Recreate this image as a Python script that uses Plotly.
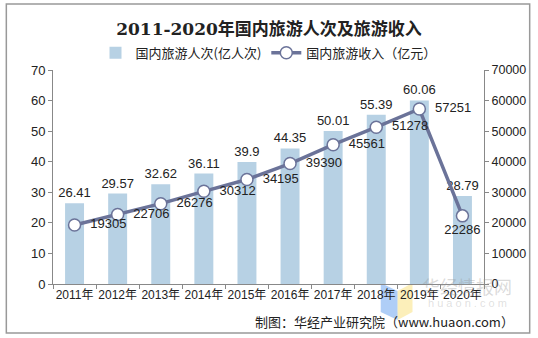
import plotly.graph_objects as go

years = ["2011年", "2012年", "2013年", "2014年", "2015年", "2016年", "2017年", "2018年", "2019年", "2020年"]
visitors = [26.41, 29.57, 32.62, 36.11, 39.9, 44.35, 50.01, 55.39, 60.06, 28.79]
revenue = [19305, 22706, 26276, 30312, 34195, 39390, 45561, 51278, 57251, 22286]
rev_pos = ["middle right"] * 9 + ["bottom center"]

FONT = "Liberation Sans, Arial, Noto Sans CJK SC, sans-serif"

# plot area in pixels: x 53..487, y 70..284
def px(x):
    return (x - 53) / 434
def py(y):
    return (284 - y) / 214

fig = go.Figure()
fig.add_trace(go.Bar(
    x=years, y=visitors, name="国内旅游人次(亿人次)",
    marker=dict(color="#b7d1e4", line=dict(width=0)),
    text=[f"{v:g}" for v in visitors], textposition="outside", constraintext="none",
    textfont=dict(size=13, color="#222", family=FONT), cliponaxis=False,
))
fig.add_trace(go.Scatter(
    x=years, y=revenue, name="国内旅游收入（亿元）", yaxis="y2",
    mode="lines+markers+text",
    line=dict(color="#6b7399", width=3.5),
    marker=dict(size=12, color="white", line=dict(color="#6b7399", width=1.5)),
    text=["  " + str(v) for v in revenue[:-1]] + [str(revenue[-1])], textposition=rev_pos,
    textfont=dict(size=13, color="#222", family=FONT), cliponaxis=False,
))

blue_logo = f"M {px(383)} {py(283)} L {px(400)} {py(291)} L {px(400)} {py(320)} L {px(383)} {py(312)} Z"
yellow_logo = f"M {px(400)} {py(291)} L {px(415)} {py(283)} L {px(415)} {py(312)} L {px(400)} {py(320)} Z"

fig.update_layout(
    width=538, height=338,
    margin=dict(l=53, r=51, t=70, b=54),
    paper_bgcolor="white", plot_bgcolor="white",
    font=dict(family=FONT, size=12, color="#222"),
    bargap=0.56,
    showlegend=True,
    title=dict(text="<b>2011-2020年国内旅游人次及旅游收入</b>", x=0.5, xanchor="center",
               y=0.915, yanchor="middle",
               font=dict(family="DejaVu Serif, Noto Sans CJK SC, serif", size=17, color="#222")),
    legend=dict(orientation="h", x=0.5, xanchor="center", y=1.08, yanchor="middle",
                font=dict(family="Noto Sans CJK SC, sans-serif", size=13, color="#222"),
                itemwidth=30, tracegroupgap=0, bgcolor="rgba(0,0,0,0)"),
    xaxis=dict(type="category", range=[-0.5, 9.5], showline=True, linecolor="#888", linewidth=1,
               ticks="outside", tickson="boundaries", ticklen=4, tickcolor="#888",
               tickangle=0, tickfont=dict(size=12, family=FONT), showgrid=False),
    yaxis=dict(range=[0, 70], dtick=10, showline=True, linecolor="#888", linewidth=1,
               ticks="outside", ticklen=4, tickcolor="#888", showgrid=False, zeroline=False,
               tickfont=dict(size=13, family=FONT)),
    yaxis2=dict(range=[0, 70000], dtick=10000, tickformat="d", overlaying="y", side="right",
                showline=True, linecolor="#888", linewidth=1,
                ticks="outside", ticklen=4, tickcolor="#888", showgrid=False, zeroline=False,
                tickfont=dict(size=12.5, family=FONT)),
    shapes=[
        dict(type="rect", xref="paper", yref="paper", x0=px(6), x1=px(533), y0=py(333), y1=py(4),
             line=dict(color="#999", width=1.5), fillcolor="rgba(0,0,0,0)", layer="below"),
        dict(type="path", xref="paper", yref="paper", path=blue_logo,
             fillcolor="rgba(110,165,240,0.55)", line=dict(width=0), layer="below"),
        dict(type="path", xref="paper", yref="paper", path=yellow_logo,
             fillcolor="rgba(250,225,130,0.55)", line=dict(width=0), layer="below"),
    ],
    annotations=[
        dict(text="制图：华经产业研究院（www.huaon.com）", xref="paper", yref="paper",
             x=px(519), y=py(321), xanchor="right", yanchor="middle", showarrow=False,
             font=dict(family="Noto Sans CJK SC, sans-serif", size=13, color="#222")),
        dict(text="华经情报网", xref="paper", yref="paper", x=px(517), y=py(286),
             xanchor="right", yanchor="middle", showarrow=False,
             font=dict(family="Noto Sans CJK SC, sans-serif", size=18, color="rgba(150,150,150,0.35)")),
        dict(text="h u a o n . c o m", xref="paper", yref="paper", x=px(470), y=py(303),
             xanchor="center", yanchor="middle", showarrow=False,
             font=dict(family="Liberation Sans, sans-serif", size=11, color="rgba(150,150,150,0.3)")),
    ],
)

fig.write_html("out.html")
